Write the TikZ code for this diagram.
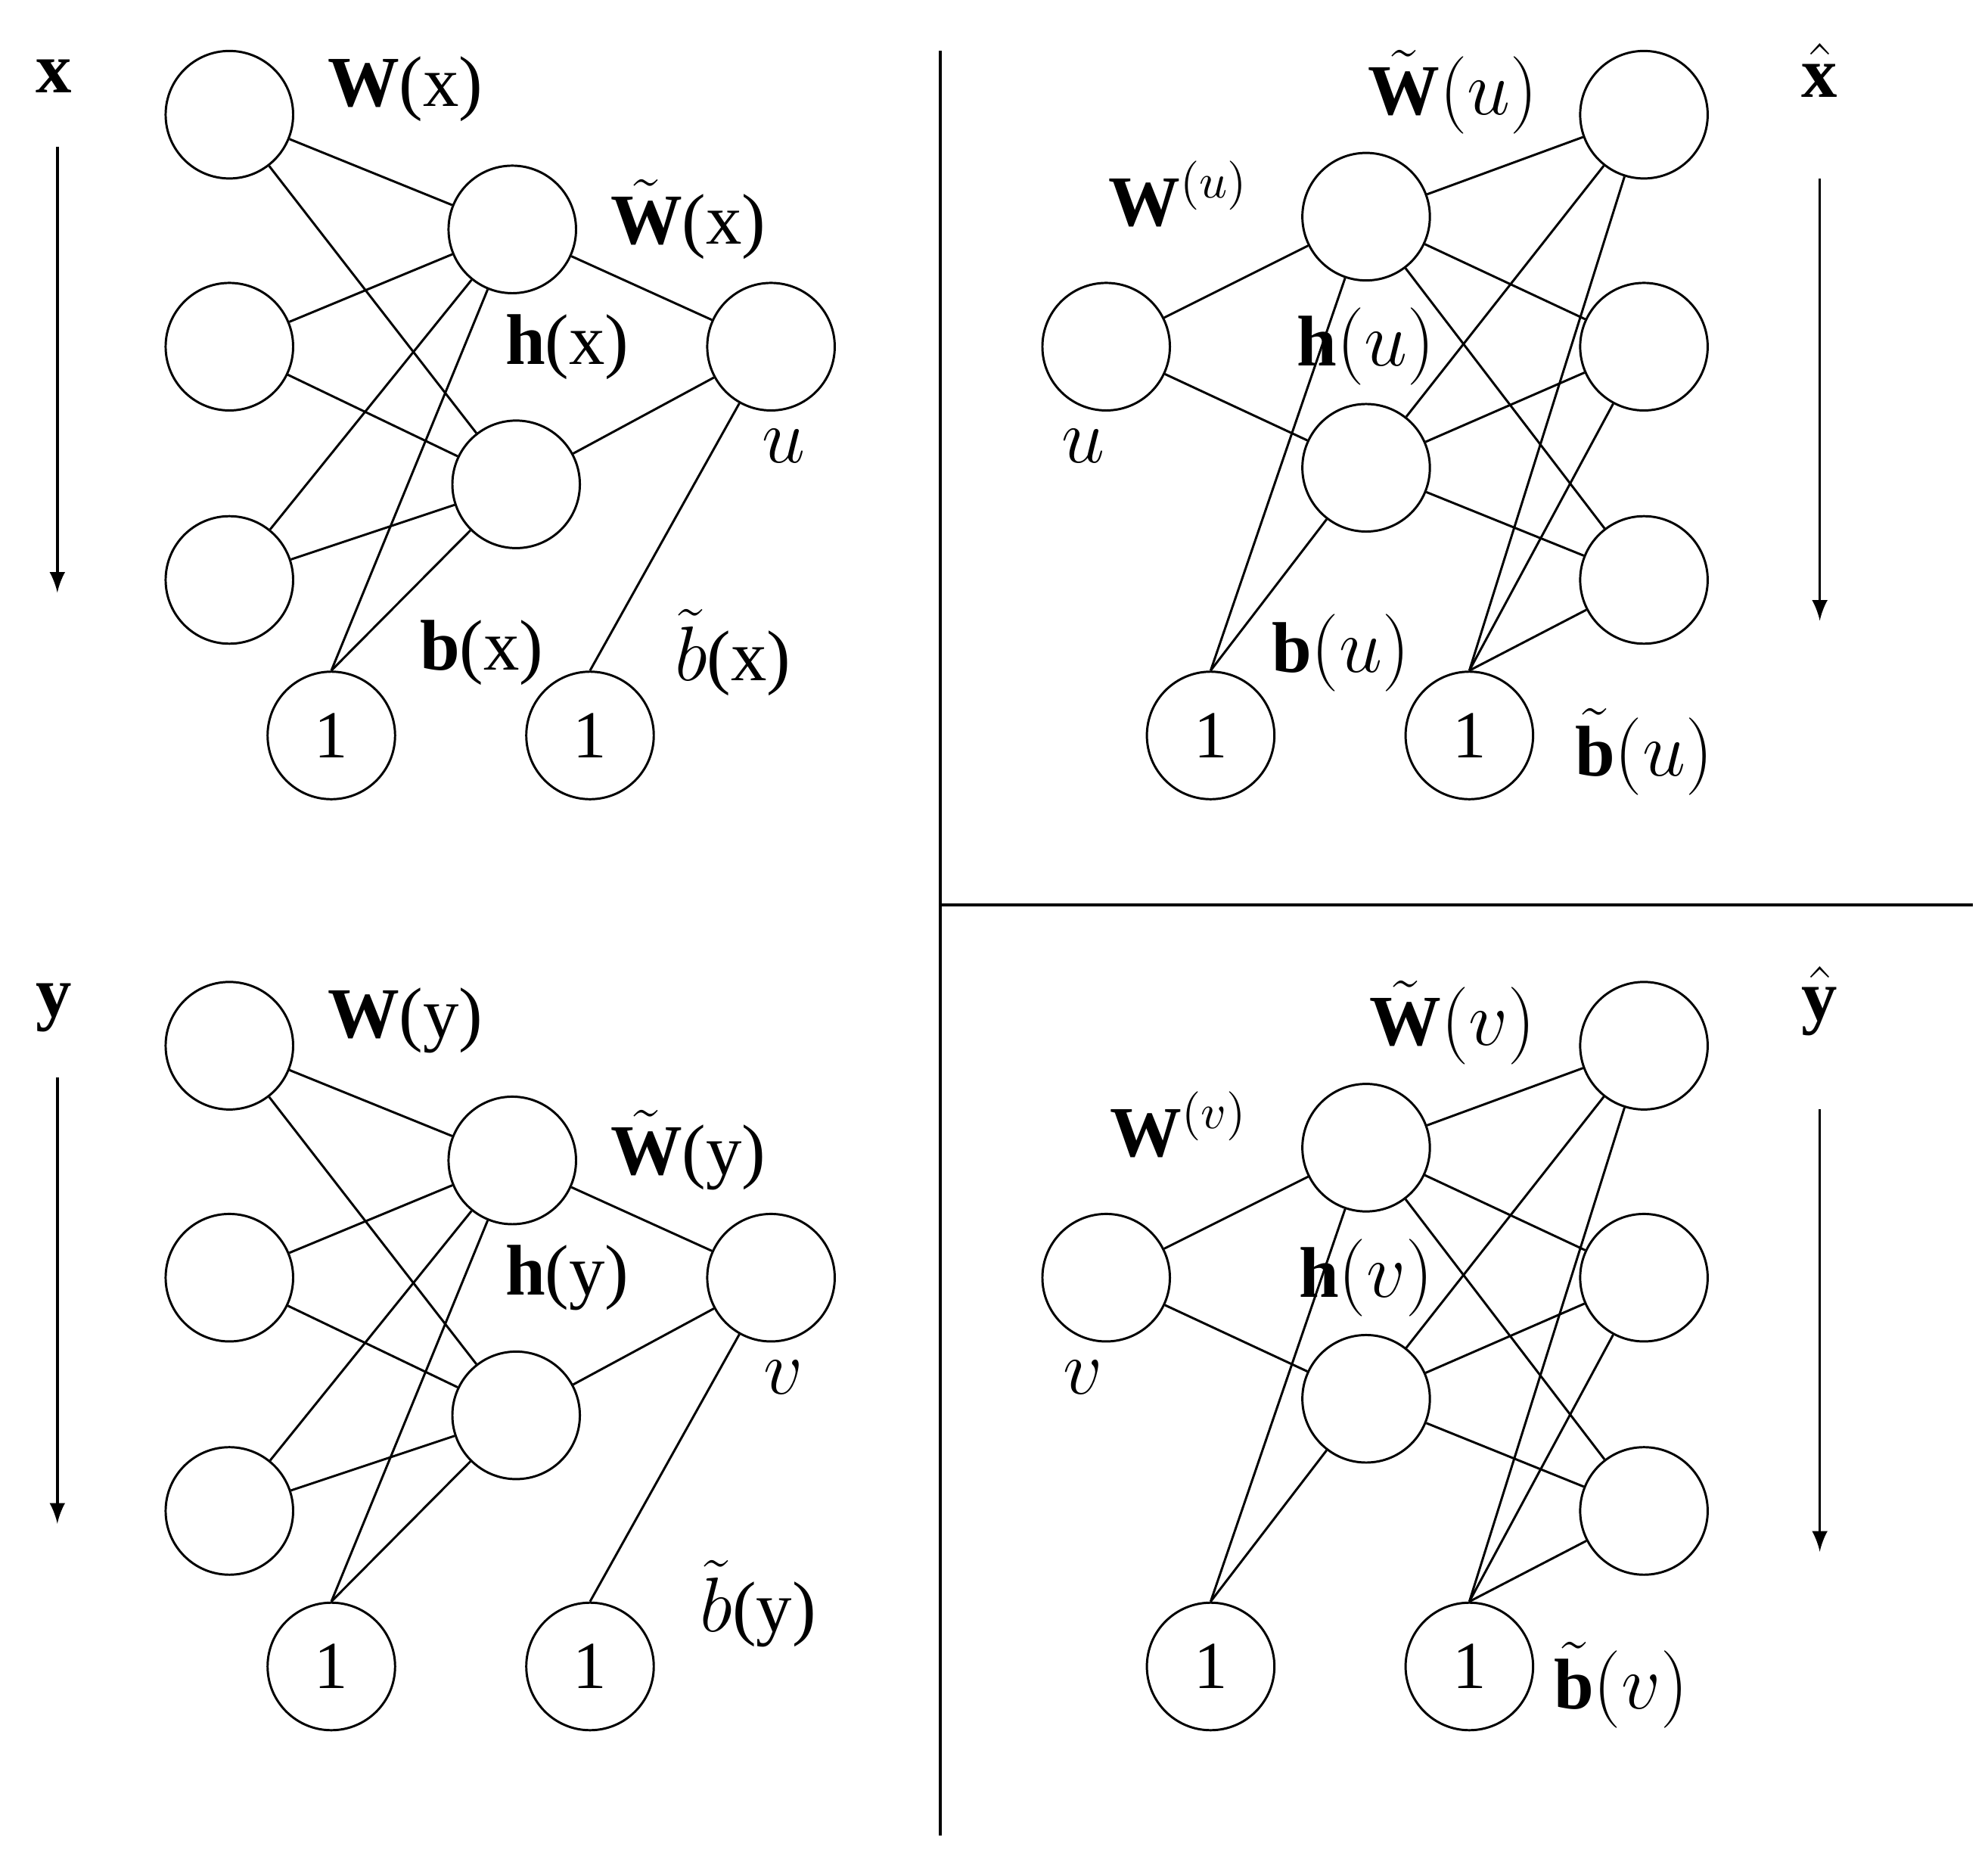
\documentclass[tikz,border=0pt]{standalone}
\usepackage{fontspec}
\setmainfont{Liberation Serif}
\begin{document}
\begin{tikzpicture}[x=0.01cm,y=-0.01cm,
  neu/.style={circle,draw,minimum size=1cm,inner sep=0pt,line width=0.5pt,font=\fontsize{15}{17}\selectfont},
  lab/.style={font=\fontsize{16}{18}\selectfont,inner sep=0pt},
  ed/.style={line width=0.5pt},
  ar/.style={line width=0.6pt,-latex}]
\useasboundingbox (0,0) rectangle (1560,1458);
\newcommand\enc[9]{%
 \begin{scope}[yshift=#2]
 \node[neu] (#1i1) at (180,90) {}; \node[neu] (#1i2) at (180,272) {}; \node[neu] (#1i3) at (180,455) {};
 \node[neu] (#1h1) at (402,180) {}; \node[neu] (#1h2) at (405,380) {};
 \node[neu] (#1o) at (605,272) {};
 \node[neu] (#1b1) at (260,577) {1}; \node[neu] (#1b2) at (463,577) {1};
 \foreach \i in {1,2,3}{\foreach \h in {1,2}{\draw[ed] (#1i\i) -- (#1h\h);}}
 \draw[ed] (#1b1.north) -- (#1h1); \draw[ed] (#1b1.north) -- (#1h2);
 \draw[ed] (#1h1) -- (#1o); \draw[ed] (#1h2) -- (#1o); \draw[ed] (#1b2.north) -- (#1o);
 \node[lab] (#1lx) at (42,60) {#3};
 \coordinate (#1a1) at (45,115); \coordinate (#1a2) at (45,465);
 \draw[ar] (#1a1) -- (#1a2);
 \node[lab] (#1lw) at (318,70) {#4};
 \node[lab] (#1lwt) at (540,172) {#5};
 \node[lab] (#1lh) at (445,272) {#6};
 \node[lab] (#1lu) at (615,350) {#7};
 \node[lab] (#1lb) at (#8) {#9};
 \end{scope}}
\newcommand\dec[9]{%
 \begin{scope}[yshift=#2]
 \node[neu] (#1u) at (868,272) {};
 \node[neu] (#1h1) at (1072,170) {}; \node[neu] (#1h2) at (1072,367) {};
 \node[neu] (#1o1) at (1290,90) {}; \node[neu] (#1o2) at (1290,272) {}; \node[neu] (#1o3) at (1290,455) {};
 \node[neu] (#1b1) at (950,577) {1}; \node[neu] (#1b2) at (1153,577) {1};
 \draw[ed] (#1u) -- (#1h1); \draw[ed] (#1u) -- (#1h2);
 \draw[ed] (#1b1.north) -- (#1h1); \draw[ed] (#1b1.north) -- (#1h2);
 \foreach \h in {1,2}{\foreach \o in {1,2,3}{\draw[ed] (#1h\h) -- (#1o\o);}}
 \foreach \o in {1,2,3}{\draw[ed] (#1b2.north) -- (#1o\o);}
 \node[lab] (#1lw) at (1140,72) {#3};
 \node[lab] (#1lx) at (1428,55) {#4};
 \coordinate (#1a1) at (1428,140); \coordinate (#1a2) at (1428,487);
 \draw[ar] (#1a1) -- (#1a2);
 \node[lab] (#1lwu) at (925,152) {#5};
 \node[lab] (#1lh) at (1072,272) {#6};
 \node[lab] (#1lu) at (850,350) {#7};
 \node[lab] (#1lb) at (#8) {#9};
 \end{scope}}
\enc{A}{0cm}{$\mathbf{x}$}{$\mathbf{W}$(x)}{$\tilde{\mathbf{W}}$(x)}{$\mathbf{h}$(x)}{$u$}{378,512}{$\mathbf{b}$(x)}
\node[lab] (Abt) at (575,512) {$\tilde{b}$(x)};
\enc{B}{-7.3cm}{$\mathbf{y}$}{$\mathbf{W}$(y)}{$\tilde{\mathbf{W}}$(y)}{$\mathbf{h}$(y)}{$v$}{367,1258}{$\mathbf{b}$(y)}
\node[lab] (Bbt) at (595,1258) {$\tilde{b}$(y)};
\dec{C}{0cm}{$\tilde{\mathbf{W}}(u)$}{$\hat{\mathbf{x}}$}{$\mathbf{W}^{(u)}$}{$\mathbf{h}(u)$}{$u$}{1052,512}{$\mathbf{b}(u)$}
\node[lab] (Cbt) at (1290,590) {$\tilde{\mathbf{b}}(u)$};
\dec{D}{-7.3cm}{$\tilde{\mathbf{W}}(v)$}{$\hat{\mathbf{y}}$}{$\mathbf{W}^{(v)}$}{$\mathbf{h}(v)$}{$v$}{1058,1258}{$\mathbf{b}(v)$}
\node[lab] (Dbt) at (1272,1322) {$\tilde{\mathbf{b}}(v)$};
\coordinate (v1) at (738,40); \coordinate (v2) at (738,1440);
\coordinate (h1) at (738,710); \coordinate (h2) at (1548,710);
\draw[line width=0.6pt] (v1) -- (v2); \draw[line width=0.6pt] (h1) -- (h2);
\end{tikzpicture}
\end{document}
